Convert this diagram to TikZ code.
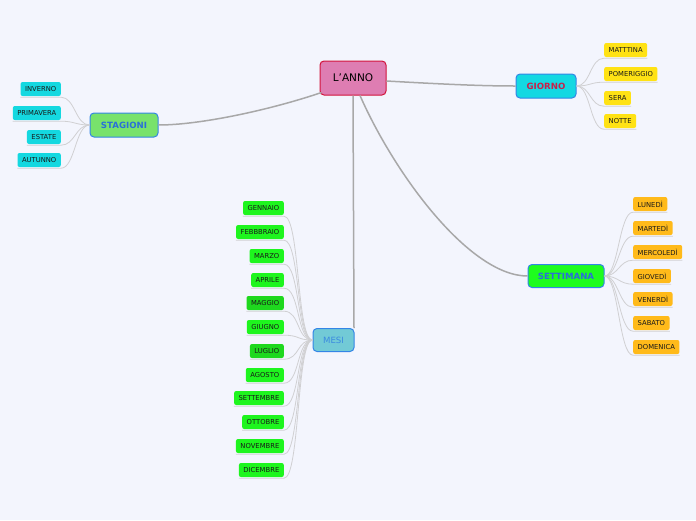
\documentclass[tikz,border=0pt]{standalone}
\usepackage{fontspec}
\setmainfont{DejaVu Sans}
\definecolor{bgc}{RGB}{243,245,253}
\definecolor{annofill}{RGB}{222,125,178}
\definecolor{annoline}{RGB}{210,20,60}
\definecolor{mainline}{RGB}{51,133,230}
\definecolor{giornofill}{RGB}{20,216,226}
\definecolor{giornotext}{RGB}{200,32,74}
\definecolor{stagfill}{RGB}{120,226,108}
\definecolor{bluetext}{RGB}{42,111,216}
\definecolor{settfill}{RGB}{30,252,30}
\definecolor{mesifill}{RGB}{114,202,214}
\definecolor{mesitext}{RGB}{59,139,224}
\definecolor{cyanleaf}{RGB}{20,216,224}
\definecolor{yellowleaf}{RGB}{255,226,20}
\definecolor{orangeleaf}{RGB}{255,186,26}
\definecolor{greenleaf}{RGB}{30,245,30}
\definecolor{greenleafd}{RGB}{30,216,30}
\definecolor{trunkc}{RGB}{168,168,168}
\definecolor{twigc}{RGB}{208,208,210}
\begin{document}
\begin{tikzpicture}[x=1pt,y=-1pt,
  mainbox/.style={draw=mainline, line width=1pt, rounded corners=4pt, inner sep=0pt},
  leaf/.style={rounded corners=2pt, minimum height=14pt, inner xsep=4.5pt, inner ysep=0pt,
    font=\fontsize{6.8}{7.5}\selectfont, text=black!90},
  cleaf/.style={leaf, fill=cyanleaf},
  yleaf/.style={leaf, fill=yellowleaf},
  oleaf/.style={leaf, fill=orangeleaf},
  gleaf/.style={leaf, fill=greenleaf},
  trunk/.style={draw=trunkc, line width=1.5pt},
  twig/.style={draw=twigc, line width=0.8pt}
]
\fill[bgc] (0,0) rectangle (696,520);
\useasboundingbox (0,0) rectangle (696,520);

% main nodes
\node[mainbox, draw=annoline, fill=annofill, minimum width=66pt, minimum height=34pt,
  font=\fontsize{10.5}{12}\selectfont] (anno) at (353,78) {L'ANNO};
\node[mainbox, fill=giornofill, minimum width=60pt, minimum height=24pt,
  font=\fontsize{8.6}{10}\selectfont\bfseries, text=giornotext] (giorno) at (546,86) {GIORNO};
\node[mainbox, fill=stagfill, minimum width=68pt, minimum height=24pt,
  font=\fontsize{8.6}{10}\selectfont\bfseries, text=bluetext] (stag) at (124,125) {STAGIONI};
\node[mainbox, fill=settfill, minimum width=76pt, minimum height=23pt,
  font=\fontsize{8.6}{10}\selectfont\bfseries, text=bluetext] (sett) at (566,276) {SETTIMANA};
\node[mainbox, fill=mesifill, minimum width=41pt, minimum height=23pt,
  font=\fontsize{8.6}{10}\selectfont, text=mesitext] (mesi) at (333.5,340) {MESI};

% trunk connectors
\draw[trunk] ([shift={(2pt,3pt)}]anno.south west) .. controls (270,110) and (200,125) .. (stag.east);
\draw[trunk] ([yshift=-3pt]anno.east) .. controls (440,84) and (480,86) .. (giorno.west);
\draw[trunk] ([xshift=7pt]anno.south) .. controls (395,175) and (470,276) .. (sett.west);
\draw[trunk] (anno.south) -- (mesi.north -| 354,0);

% STAGIONI leaves
\foreach \n/\t/\y in {inv/INVERNO/89, pri/PRIMAVERA/113, est/ESTATE/137, aut/AUTUNNO/160}{
  \node[cleaf, anchor=east] (\n) at (61,\y) {\t};
  \draw[twig] (stag.west) .. controls +(-14,0) and +(14,0) .. ([yshift=-1pt]\n.south east) -- ([yshift=-1pt]\n.south west);
}

% GIORNO leaves
\foreach \n/\t/\y in {mat/MATTTINA/50, pom/POMERIGGIO/74, ser/SERA/98, not/NOTTE/121}{
  \node[yleaf, anchor=west] (\n) at (604,\y) {\t};
  \draw[twig] (giorno.east) .. controls +(14,0) and +(-14,0) .. ([yshift=-1pt]\n.south west) -- ([yshift=-1pt]\n.south east);
}

% SETTIMANA leaves
\foreach \n/\t/\y in {lun/LUNEDÌ/204, mar/MARTEDÌ/228, mer/MERCOLEDÌ/252, gio/GIOVEDÌ/276, ven/VENERDÌ/299, sab/SABATO/323, dom/DOMENICA/347}{
  \node[oleaf, anchor=west] (\n) at (633,\y) {\t};
  \draw[twig] (sett.east) .. controls +(14,0) and +(-14,0) .. ([yshift=-1pt]\n.south west) -- ([yshift=-1pt]\n.south east);
}

% MESI leaves
\foreach \n/\t/\y/\c in {gen/GENNAIO/208/greenleaf, feb/FEBBBRAIO/232/greenleaf, mrz/MARZO/256/greenleaf,
  apr/APRILE/280/greenleaf, mag/MAGGIO/303/greenleafd, giu/GIUGNO/327/greenleaf, lug/LUGLIO/351/greenleafd,
  ago/AGOSTO/375/greenleaf, set/SETTEMBRE/398/greenleaf, ott/OTTOBRE/422/greenleaf,
  nov/NOVEMBRE/446/greenleaf, dic/DICEMBRE/470/greenleaf}{
  \node[leaf, fill=\c, anchor=east] (\n) at (284,\y) {\t};
  \draw[twig] (mesi.west) .. controls +(-16,0) and +(16,0) .. ([yshift=-1pt]\n.south east) -- ([yshift=-1pt]\n.south west);
}
\end{tikzpicture}
\end{document}
